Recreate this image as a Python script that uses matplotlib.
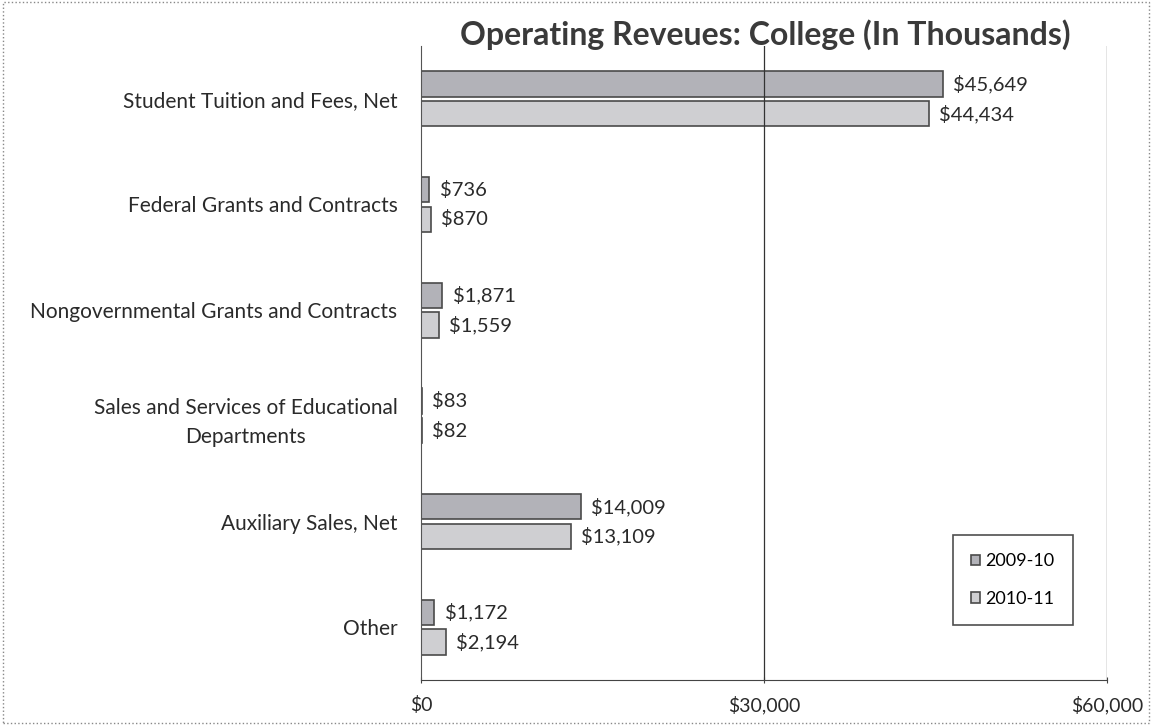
import matplotlib.pyplot as plt
import numpy as np

categories = ['Student Tuition and Fees, Net',
              'Federal Grants and Contracts',
              'Nongovernmental Grants and Contracts',
              'Sales and Services of Educational\nDepartments',
              'Auxiliary Sales, Net',
              'Other']
rev_2009 = [45649, 736, 1871, 83, 14009, 1172]
rev_2010 = [44434, 870, 1559, 82, 13109, 2194]
series_names = ['2009-10', '2010-11']
xticks = [0, 30000, 60000]
xtick_labels = ['$0', '$30,000', '$60,000']

plt.rcParams['font.family'] = ['Lato', 'DejaVu Sans']

fig = plt.figure(figsize=(11.52, 7.25), dpi=100)
ax = fig.add_axes([421 / 1152, 1 - 680 / 725, 686 / 1152, 634 / 725])

y = np.arange(len(categories))
h = 0.24
gap = 0.02
bars1 = ax.barh(y - h / 2 - gap, rev_2009, height=h, color='#b2b2b8',
                edgecolor='#4a4a4a', linewidth=1.2, label=series_names[0])
bars2 = ax.barh(y + h / 2 + gap, rev_2010, height=h, color='#cfcfd2',
                edgecolor='#4a4a4a', linewidth=1.2, label=series_names[1])

for bars, vals in ((bars1, rev_2009), (bars2, rev_2010)):
    for b, v in zip(bars, vals):
        ax.text(b.get_width() + 900, b.get_y() + b.get_height() / 2,
                f'${v:,}', va='center', ha='left', fontsize=14.5, color='#2a2a2a')

ax.set_ylim(len(categories) - 0.5, -0.5)
ax.set_xlim(0, 60000)
ax.set_yticks(y)
ax.set_yticklabels(categories, fontsize=15, color='#2a2a2a', ha='right',
                   multialignment='center', linespacing=1.6)
ax.tick_params(axis='y', length=0, pad=17)
ax.set_xticks(xticks)
ax.set_xticklabels(xtick_labels, fontsize=14, color='#2a2a2a')
ax.tick_params(axis='x', length=5, direction='inout', pad=9, color='#444444')

for xv in xticks[1:]:
    ax.axvline(xv, color='#333333', linewidth=0.9)
for s in ['top', 'right']:
    ax.spines[s].set_visible(False)
ax.spines['left'].set_color('#555555')
ax.spines['bottom'].set_color('#444444')

# title overlaps the top of the plot area like the original
fig.text(765 / 1152, 1 - 35 / 725, 'Operating Reveues: College (In Thousands)',
         fontsize=23, fontweight='bold', color='#3a3a3a', ha='center', va='center')

leg = ax.legend(loc='lower right', bbox_to_anchor=(0.950, 0.087), borderaxespad=0,
                fontsize=13, frameon=True, fancybox=False, handlelength=0.5,
                handleheight=0.5, labelspacing=1.2, borderpad=1.0, handletextpad=0.3)
leg.get_frame().set_edgecolor('#222222')
leg.get_frame().set_linewidth(1.2)

# dotted outer border
fig.patches.append(plt.Rectangle((0.003, 0.003), 0.994, 0.994, transform=fig.transFigure,
                                 fill=False, edgecolor='#888888', linestyle=':', linewidth=1))

fig.savefig('out.png', dpi=100)
